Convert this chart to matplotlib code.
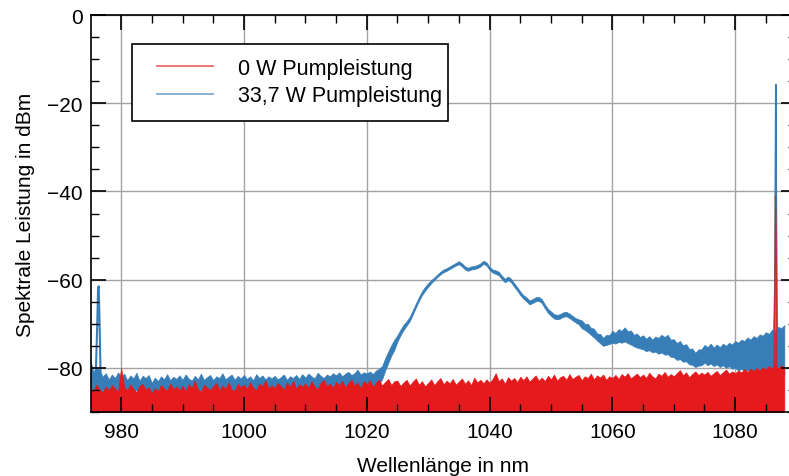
import numpy as np
import matplotlib
matplotlib.use('Agg')
import matplotlib.pyplot as plt
from matplotlib.lines import Line2D
from matplotlib.patches import Rectangle
from matplotlib.ticker import MultipleLocator

plt.rcParams['font.family'] = ['Liberation Sans', 'DejaVu Sans']
plt.rcParams['font.size'] = 15

# ---------------- data ----------------
# sampling grid 975.0 ... 1088.0 nm, 0.5 nm step (227 samples)
wavelength = np.linspace(975.0, 1088.0, 227)

# 33,7 W : upper edge of the noisy trace (dBm)
blue_upper = [
    -78.5, -80.8, -80.0, -80.5, -82.0, -81.2, -82.6, -81.5, -82.3, -81.0,
    -82.0, -81.3, -82.8, -81.7, -82.4, -81.1, -82.9, -81.8, -82.3, -81.6,
    -83.4, -82.2, -83.0, -81.9, -82.6, -81.4, -82.8, -82.0, -82.5, -81.7,
    -82.7, -81.5, -82.4, -82.9, -81.8, -82.6, -81.3, -82.7, -82.1, -81.6,
    -82.8, -81.9, -82.3, -81.2, -82.6, -82.0, -81.5, -82.7, -81.8, -82.4,
    -81.6, -82.5, -81.9, -82.8, -81.4, -82.3, -81.7, -82.6, -81.9, -82.4,
    -81.8, -82.6, -82.1, -81.5, -82.7, -81.9, -82.3, -81.6, -82.5, -81.4,
    -82.2, -81.3, -81.9, -82.4, -81.1, -81.8, -82.3, -81.5, -81.9, -81.2,
    -81.7, -81.0, -81.9, -81.3, -80.9, -81.6, -81.2, -80.4, -81.5, -81.0,
    -81.3, -80.8, -81.4, -80.6, -80.2, -79.6, -77.8, -76.3, -74.8, -73.6,
    -72.6, -71.3, -70.2, -69.4, -68.4, -66.9, -65.4, -63.9, -62.6, -61.6,
    -60.8, -60.1, -59.5, -58.8, -58.2, -57.7, -57.4, -57.0, -56.6, -56.2,
    -55.8, -56.3, -57.0, -57.3, -57.0, -56.9, -56.7, -56.3, -55.7, -56.1,
    -57.1, -57.7, -57.9, -58.2, -59.1, -59.8, -59.3, -59.8, -60.8, -61.7,
    -62.7, -63.5, -64.0, -64.7, -64.4, -64.0, -63.9, -64.4, -65.6, -66.6,
    -67.2, -67.8, -68.0, -67.8, -67.4, -67.3, -67.7, -68.2, -68.7, -69.0,
    -69.2, -70.0, -70.0, -70.9, -71.1, -72.2, -72.3, -73.2, -72.5, -72.6,
    -71.6, -72.1, -71.2, -71.6, -70.8, -71.7, -71.5, -72.5, -72.2, -73.0,
    -72.6, -73.4, -72.8, -73.6, -72.9, -73.2, -72.5, -73.0, -72.5, -73.6,
    -73.5, -74.4, -73.9, -74.9, -74.6, -75.7, -75.6, -76.6, -75.8, -75.8,
    -74.8, -75.3, -74.5, -75.4, -74.7, -75.3, -74.5, -75.0, -74.3, -74.7,
    -73.9, -74.3, -73.6, -73.9, -73.1, -73.6, -72.8, -73.2, -72.4, -72.7,
    -71.9, -72.3, -71.3, -71.6, -70.7, -71.0, -70.3,
]

# 33,7 W : lower edge of the noisy trace (dBm)
blue_lower = [
    -84.0, -85.2, -84.5, -85.0, -85.8, -84.9, -86.0, -85.3, -85.9, -85.1,
    -85.6, -84.8, -86.1, -85.2, -85.7, -84.9, -86.2, -85.4, -86.0, -85.3,
    -87.4, -86.3, -85.6, -86.0, -85.2, -85.8, -86.1, -85.0, -85.7, -85.3,
    -86.0, -85.1, -85.8, -86.2, -85.3, -85.9, -85.0, -85.7, -86.1, -85.2,
    -85.8, -85.0, -85.6, -84.9, -85.9, -85.3, -84.8, -85.7, -85.1, -85.6,
    -85.0, -85.7, -85.2, -86.0, -84.9, -85.5, -85.1, -85.8, -85.3, -85.6,
    -85.2, -85.9, -85.4, -84.8, -85.8, -85.1, -85.5, -84.9, -85.7, -84.8,
    -85.4, -84.7, -85.2, -85.6, -84.6, -85.1, -85.5, -84.8, -85.2, -84.5,
    -85.0, -84.4, -85.1, -84.6, -84.3, -84.9, -84.5, -84.0, -84.8, -84.3,
    -84.6, -84.1, -84.6, -84.0, -83.5, -82.6, -80.6, -78.9, -77.2, -75.9,
    -74.0, -72.6, -71.4, -70.4, -69.4, -67.9, -66.3, -64.8, -63.5, -62.5,
    -61.6, -60.8, -60.1, -59.4, -58.8, -58.3, -58.0, -57.6, -57.2, -56.8,
    -56.5, -57.0, -57.7, -58.0, -57.7, -57.6, -57.4, -57.0, -56.4, -56.8,
    -57.8, -58.4, -58.7, -59.0, -59.9, -60.6, -60.1, -60.6, -61.6, -62.5,
    -63.5, -64.3, -64.9, -65.6, -65.3, -64.9, -64.8, -65.3, -66.5, -67.5,
    -68.2, -68.8, -69.0, -68.8, -68.4, -68.3, -68.7, -69.2, -69.7, -70.1,
    -71.0, -71.4, -71.9, -72.5, -73.1, -73.8, -74.4, -75.0, -74.8, -74.6,
    -74.3, -74.5, -74.1, -74.3, -74.0, -74.4, -74.7, -75.1, -75.4, -75.6,
    -75.8, -76.2, -76.0, -76.5, -76.3, -76.8, -76.5, -77.0, -76.9, -77.5,
    -77.6, -78.2, -78.0, -78.6, -78.5, -79.2, -79.3, -79.8, -79.5, -79.4,
    -78.8, -79.4, -79.0, -79.6, -79.2, -79.8, -79.4, -80.0, -79.6, -80.2,
    -80.0, -80.6, -80.2, -80.8, -80.4, -81.0, -80.6, -81.2, -80.8, -81.3,
    -81.0, -81.5, -81.2, -81.6, -81.3, -81.8, -81.5,
]

# 0 W : peaks of the noise floor (dBm); troughs fall below the shown range
red_upper = [
    -84.5, -85.3, -83.8, -84.9, -85.6, -84.2, -85.1, -83.9, -84.7, -85.4,
    -80.0, -84.3, -85.2, -83.7, -84.8, -85.5, -84.1, -83.6, -85.0, -84.4,
    -85.8, -84.6, -85.3, -83.9, -84.7, -85.2, -83.5, -84.9, -84.2, -85.1,
    -84.0, -85.3, -83.7, -84.6, -82.9, -84.8, -85.4, -83.8, -84.5, -85.0,
    -84.2, -83.4, -85.1, -84.0, -84.7, -83.3, -84.9, -85.2, -83.6, -84.4,
    -83.8, -84.9, -83.2, -84.5, -85.0, -83.6, -84.2, -82.8, -84.7, -83.9,
    -84.6, -83.4, -84.1, -85.0, -83.3, -84.4, -82.9, -84.8, -83.7, -84.3,
    -83.5, -84.6, -83.0, -84.2, -84.9, -83.4, -82.7, -84.1, -83.6, -84.5,
    -83.2, -84.0, -82.9, -84.4, -83.5, -82.6, -84.1, -83.3, -84.6, -83.0,
    -83.7, -82.8, -84.3, -83.4, -82.6, -84.0, -83.2, -82.5, -83.9, -83.0,
    -82.9, -84.1, -83.3, -82.7, -84.0, -83.1, -82.4, -83.8, -83.0, -84.2,
    -83.4, -82.6, -83.9, -83.0, -82.3, -83.7, -82.9, -83.5, -82.5, -83.8,
    -83.1, -82.4, -83.6, -82.8, -83.9, -82.2, -83.3, -82.7, -83.5, -82.6,
    -83.4, -82.5, -81.2, -83.0, -82.4, -83.6, -82.1, -82.9, -82.3, -83.2,
    -82.0, -82.8, -81.9, -83.1, -82.4, -81.7, -82.9, -82.2, -83.0, -81.8,
    -82.6, -81.5, -82.9, -82.1, -81.8, -82.7, -81.4, -82.5, -82.0, -81.6,
    -82.8, -81.9, -82.3, -81.3, -82.6, -81.7, -82.2, -81.5, -82.7, -81.9,
    -82.3, -81.6, -82.5, -81.4, -82.0, -81.2, -82.4, -81.8, -81.3, -82.1,
    -81.5, -82.3, -81.1, -81.9, -82.4, -81.3, -81.8, -80.9, -82.0, -81.4,
    -81.9, -81.2, -80.5, -81.7, -81.0, -82.1, -81.4, -80.8, -81.6, -81.1,
    -81.5, -80.9, -81.8, -81.2, -80.7, -81.6, -81.0, -80.4, -81.3, -80.8,
    -81.2, -80.6, -81.0, -80.3, -80.9, -80.2, -80.7, -80.0, -80.6, -79.8,
    -80.4, -79.6, -80.2, -79.5, -80.1, -79.4, -80.0,
]
red_floor = -95.0

# narrow lines resolved separately
blue_peak_wl = [975.9, 976.1, 976.25, 976.35, 976.5, 976.65]
blue_peak_db = [-80.5, -71.0, -62.0, -61.5, -70.0, -81.0]
blue_laser_wl = [1086.3, 1086.45, 1086.55, 1086.62, 1086.7, 1086.85]
blue_laser_db = [-73.0, -62.0, -35.0, -15.8, -45.0, -73.0]
red_laser_wl = [1086.3, 1086.45, 1086.55, 1086.65, 1086.8]
red_laser_db = [-80.0, -62.0, -41.0, -46.0, -80.0]

labels = ['0 W Pumpleistung', '33,7 W Pumpleistung']
x_ticks = [980, 1000, 1020, 1040, 1060, 1080]
y_ticks = [-80, -60, -40, -20, 0]

RED = '#e41a1c'
BLUE = '#377eb8'
GRID = '#a3a3a3'

fig = plt.figure(figsize=(7.89, 4.77), dpi=100)
ax = fig.add_axes([91 / 789, 64 / 477, 705 / 789, 397 / 477])

# grid (below data, ticks stay above)
for xt in x_ticks:
    ax.axvline(xt, color=GRID, lw=1.0, zorder=0.5)
for yt in y_ticks:
    ax.axhline(yt, color=GRID, lw=1.0, zorder=0.5)

# 33,7 W trace
ax.fill_between(wavelength, blue_lower, blue_upper, color=BLUE, lw=0.5,
                edgecolor=BLUE, zorder=1.0)
ax.plot(blue_peak_wl, blue_peak_db, color=BLUE, lw=1.5, zorder=1.1)
ax.plot(blue_laser_wl, blue_laser_db, color=BLUE, lw=1.2, zorder=1.1)

# 0 W trace
ax.fill_between(wavelength, red_floor, red_upper, color=RED, lw=0.5,
                edgecolor=RED, zorder=1.2)
ax.fill(red_laser_wl, red_laser_db, color=RED, alpha=0.75, lw=0.8, zorder=1.3)

ax.set_xlim(975.1, 1089.9)
ax.set_ylim(-90, 0)
ax.set_xticks(x_ticks)
ax.set_yticks(y_ticks)
ax.xaxis.set_minor_locator(MultipleLocator(5))
ax.yaxis.set_minor_locator(MultipleLocator(5))
ax.tick_params(which='both', direction='in', top=True, right=True,
               labelsize=15, colors='black')
ax.tick_params(which='major', length=11, width=1.2)
ax.tick_params(which='minor', length=6, width=1.0)
ax.tick_params(axis='x', which='major', pad=7)
ax.tick_params(axis='y', which='major', pad=6)
for sp in ax.spines.values():
    sp.set_linewidth(1.2)
    sp.set_zorder(3)

ax.set_xlabel('Wellenlänge in nm', fontsize=15, labelpad=11)
ax.set_ylabel('Spektrale Leistung in dBm', fontsize=15, labelpad=9)

# legend frame (fixed box) and legend content
frame = Rectangle((132 / 789, 1 - 122 / 477), 316 / 789, 77 / 477,
                  transform=fig.transFigure, facecolor='white',
                  edgecolor='black', lw=1.2, zorder=4, clip_on=False)
ax.add_patch(frame)

h_red = Line2D([], [], color=RED, lw=1.4, alpha=0.6)
h_blue = Line2D([], [], color=BLUE, lw=1.4, alpha=0.6)
leg = ax.legend([h_red, h_blue], labels, loc='upper left',
                bbox_to_anchor=(157 / 789, 1 - 59 / 477),
                bbox_transform=fig.transFigure, borderaxespad=0,
                borderpad=0, frameon=False, fontsize=15.5,
                handlelength=2.6, handletextpad=1.15, labelspacing=0.3)
leg.set_zorder(5)

fig.savefig('out.png', dpi=100)
